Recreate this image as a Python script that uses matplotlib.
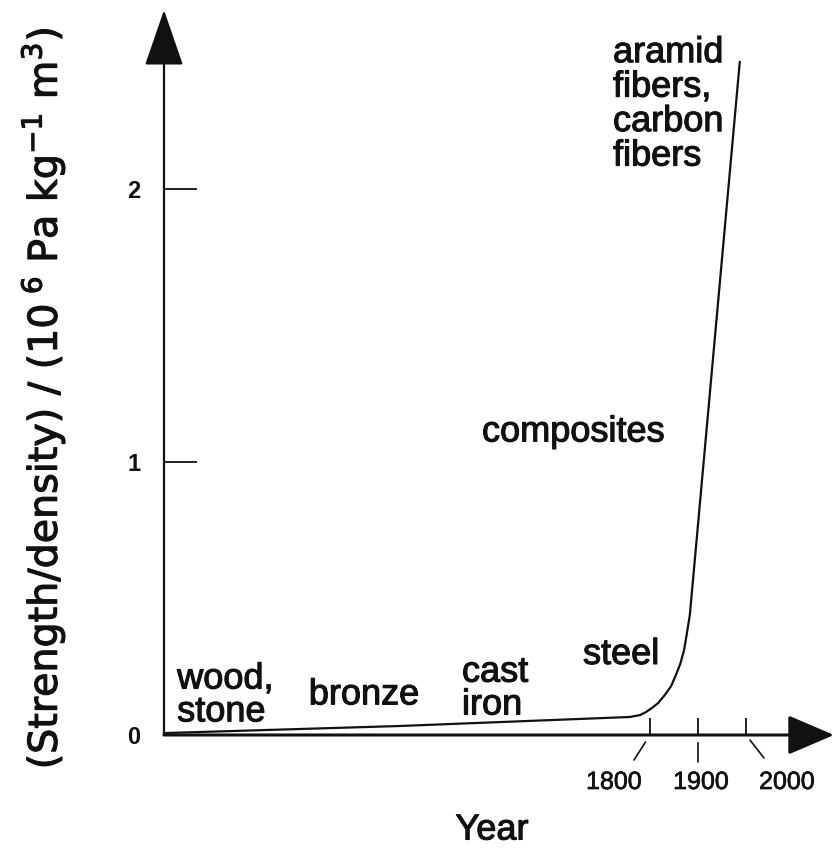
import numpy as np
import matplotlib
matplotlib.use("Agg")
import matplotlib.pyplot as plt
import matplotlib.patheffects as pe

plt.rcParams['font.family'] = ['Liberation Sans', 'DejaVu Sans']
plt.rcParams['mathtext.fontset'] = 'custom'
plt.rcParams['mathtext.rm'] = 'DejaVu Sans'
plt.rcParams['mathtext.it'] = 'DejaVu Sans:italic'
plt.rcParams['mathtext.bf'] = 'DejaVu Sans:bold'

# ---- data ----
years = [-10000, -4270, 1314, 1557, 1703, 1804, 1817, 1831, 1844, 1854,
         1863, 1871, 1877, 1883, 1987]
strength = [0.007, 0.033, 0.066, 0.073, 0.084, 0.099, 0.117, 0.147, 0.179, 0.220,
            0.260, 0.311, 0.374, 0.440, 2.465]

x_tick_years = [1800, 1900, 2000]
y_ticks = [0, 1, 2]
y_tick_labels = ["0", "1", "2"]

era_labels = ["wood,\nstone", "bronze", "cast\niron", "steel", "composites",
              "aramid\nfibers,\ncarbon\nfibers"]
era_years = [-9680, -5144, -2765, 173, -2279, 902]
era_values = [0.145, 0.147, 0.17, 0.295, 1.11, 2.31]
era_ha = ["left", "center", "left", "left", "left", "left"]
era_spacing = [0.92, 1.0, 0.92, 1.0, 1.0, 0.98]

xlabel = "Year"
ylabel = r"(Strength/density) / (10$^{\ 6}$ Pa kg$^{-1}$ m$^{3}$)"

# ---- piecewise-linear time scale (compressed before 1800) ----
bp_year = [-10000, 1800, 2300]
bp_pos = [0.0, 486.0, 726.0]

def fwd(y):
    return np.interp(y, bp_year, bp_pos)

def inv(p):
    return np.interp(p, bp_pos, bp_year)

W, H = 837, 851
fig = plt.figure(figsize=(W / 100, H / 100), dpi=100)
fig.patch.set_facecolor('white')

x0, y0 = 164, 735           # origin pixel
x1, ytop = 834, 10          # arrow tips
ax = fig.add_axes([x0 / W, (H - y0) / H, (x1 - x0) / W, (y0 - ytop) / H])
ax.set_xscale('function', functions=(fwd, inv))
ax.set_xlim(-10000, inv(x1 - x0))
ax.set_ylim(0, (y0 - ytop) / 273.0)
ax.patch.set_alpha(0)
for s in ax.spines.values():
    s.set_visible(False)

ink = '#111111'
bold_fx = [pe.withStroke(linewidth=0.8, foreground=ink)]
semi_fx = [pe.withStroke(linewidth=0.5, foreground=ink)]

# curve
ax.plot(years, strength, color=ink, lw=1.6, solid_joinstyle='round', clip_on=False)

# axis arrows
ax.annotate('', xy=(0, 1), xycoords='axes fraction', xytext=(0, 0),
            arrowprops=dict(arrowstyle='-|>,head_length=1.8,head_width=0.62',
                            mutation_scale=20, lw=1.6, color=ink,
                            shrinkA=0, shrinkB=0))
ax.annotate('', xy=(1, 0), xycoords='axes fraction', xytext=(0, 0),
            arrowprops=dict(arrowstyle='-|>,head_length=1.45,head_width=0.62',
                            mutation_scale=20, lw=2.2, color=ink,
                            shrinkA=0, shrinkB=0))

# y ticks
ax.set_yticks(y_ticks)
ax.set_yticklabels(y_tick_labels, fontsize=17, fontweight='bold')
ax.tick_params(axis='y', direction='in', length=24, width=1.3, pad=17, colors=ink)

# x ticks (marks only)
ax.set_xticks(x_tick_years)
ax.set_xticklabels([])
ax.tick_params(axis='x', direction='in', length=12.5, width=1.3, colors=ink)
ax.minorticks_off()

# x tick labels with leader lines
leader_end = [(-16, -25), (0, -27), (18, -23)]
leader_shrink = [6.0, 5.5, 4.6]
label_off = [(-36, -47), (3, -47), (41, -47)]
for yr, le, sh, lo in zip(x_tick_years, leader_end, leader_shrink, label_off):
    ax.annotate('', xy=(yr, 0), xycoords='data', xytext=le, textcoords='offset pixels',
                arrowprops=dict(arrowstyle='-', lw=1.2, color=ink,
                                shrinkA=0, shrinkB=sh), annotation_clip=False)
    ax.annotate(str(yr), xy=(yr, 0), xycoords='data', xytext=lo,
                textcoords='offset pixels', ha='center', va='center',
                fontsize=18, color=ink, annotation_clip=False, path_effects=semi_fx)

# era labels
for txt, yr, v, ha, ls in zip(era_labels, era_years, era_values, era_ha, era_spacing):
    ax.text(yr, v, txt, ha=ha, va='center', fontsize=26, color=ink,
            linespacing=ls, clip_on=False, path_effects=bold_fx)

# axis labels
fig.text(492 / W, 1 - 830 / H, xlabel, ha='center', va='center', fontsize=26,
         color=ink, path_effects=bold_fx)
fig.text(43 / W, 1 - 398 / H, ylabel, ha='center', va='center', rotation=90,
         fontsize=28.5, color=ink, family=['DejaVu Sans'], path_effects=bold_fx)

fig.savefig('out.png', dpi=100, facecolor='white')
